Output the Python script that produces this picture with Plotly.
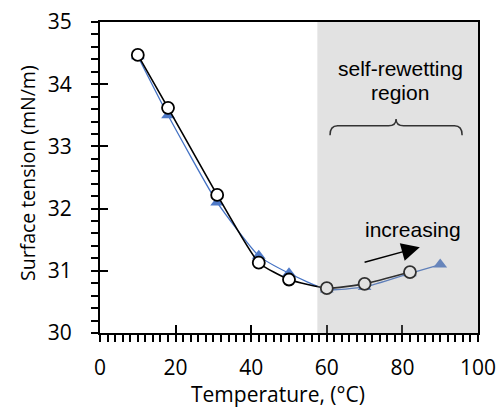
import plotly.graph_objects as go

# Data
temp_circle = [10, 18, 31, 42, 50, 60, 70, 82]
st_circle = [34.47, 33.62, 32.22, 31.13, 30.86, 30.72, 30.79, 30.98]
temp_tri = [10, 18, 31, 42, 50, 60, 70, 82, 90]
st_tri = [34.45, 33.50, 32.10, 31.24, 30.96, 30.70, 30.74, 30.96, 31.10]

region_start = 57.5
region_end = 100

fig = go.Figure()

fig.add_trace(go.Scatter(
    x=temp_tri, y=st_tri, mode="lines+markers",
    line=dict(color="#4472c4", width=1.3, shape="spline", smoothing=0.5),
    marker=dict(symbol="triangle-up", size=12, color="#4f7ac8"),
    showlegend=False, hoverinfo="skip"))
fig.add_trace(go.Scatter(
    x=temp_circle, y=st_circle, mode="lines+markers",
    line=dict(color="black", width=1.6, shape="spline", smoothing=0.5),
    marker=dict(symbol="circle", size=12, color="white", line=dict(color="black", width=1.8)),
    showlegend=False, hoverinfo="skip"))
# invisible trace to activate overlay axes (cross ticks)
fig.add_trace(go.Scatter(
    x=temp_circle, y=st_circle, xaxis="x2", yaxis="y2", mode="markers",
    marker=dict(opacity=0), showlegend=False, hoverinfo="skip"))

tickfont = dict(family="Open Sans", size=21, color="black")

fig.update_layout(
    width=503, height=410,
    margin=dict(l=100, r=25, t=22, b=77, autoexpand=False),
    paper_bgcolor="white", plot_bgcolor="white",
    xaxis=dict(range=[0, 100], dtick=20, tick0=0, showgrid=False, zeroline=False,
               showline=True, linecolor="black", linewidth=2, mirror=True,
               ticks="outside", ticklen=7, tickwidth=2, tickcolor="black",
               tickfont=tickfont, ticklabelstandoff=8, automargin=False,
               minor=dict(dtick=2, ticks="outside", ticklen=7, tickwidth=1.5, tickcolor="black")),
    yaxis=dict(range=[30, 35], dtick=1, tick0=30, showgrid=False, zeroline=False,
               showline=True, linecolor="black", linewidth=2, mirror=True,
               ticks="outside", ticklen=7, tickwidth=2, tickcolor="black",
               tickfont=tickfont, ticklabelstandoff=15, automargin=False,
               minor=dict(dtick=0.2, ticks="outside", ticklen=7, tickwidth=1.5, tickcolor="black")),
    xaxis2=dict(range=[0, 100], dtick=20, tick0=0, overlaying="x", anchor="y2",
                showgrid=False, zeroline=False, showline=False, showticklabels=False,
                ticks="inside", ticklen=8, tickwidth=2, tickcolor="black", automargin=False),
    yaxis2=dict(range=[30, 35], dtick=1, tick0=30, overlaying="y", anchor="x2",
                showgrid=False, zeroline=False, showline=False, showticklabels=False,
                ticks="inside", ticklen=8, tickwidth=2, tickcolor="black", automargin=False),
)

# shaded self-rewetting region (semi-transparent overlay)
fig.add_shape(type="rect", xref="x", yref="paper", x0=region_start, x1=region_end, y0=0, y1=1,
              fillcolor="#a0a0a0", opacity=0.3, line=dict(width=0), layer="above")

# curly brace
bx0, bx1, by, bh = 60.85, 95.8, 33.33, 0.11
bm = (bx0 + bx1) / 2
bq = 2.0
brace = (f"M {bx0},{by - 0.15} Q {bx0},{by} {bx0 + bq},{by} L {bm - bq},{by} "
         f"Q {bm},{by} {bm},{by + bh} Q {bm},{by} {bm + bq},{by} L {bx1 - bq},{by} "
         f"Q {bx1},{by} {bx1},{by - 0.15}")
fig.add_shape(type="path", path=brace, xref="x", yref="y",
              line=dict(color="#333333", width=1.5), layer="above")

annfont = dict(family="Liberation Sans", size=21, color="black")
fig.add_annotation(x=79.4, y=34.26, xref="x", yref="y", text="self-rewetting",
                   showarrow=False, font=annfont)
fig.add_annotation(x=79.4, y=33.87, xref="x", yref="y", text="region",
                   showarrow=False, font=annfont)
fig.add_annotation(x=82.8, y=31.66, xref="x", yref="y", text="increasing",
                   showarrow=False, font=annfont)
fig.add_annotation(x=84.6, y=31.38, ax=69.6, ay=31.13, xref="x", yref="y",
                   axref="x", ayref="y", text="", showarrow=True,
                   arrowhead=2, arrowsize=2.6, arrowwidth=1.4, arrowcolor="black")

fig.add_annotation(x=0.471, y=-0.2445, xref="paper", yref="paper", text="Temperature, (°C)",
                   showarrow=False, font=dict(family="Open Sans", size=21, color="black"),
                   xanchor="center", yanchor="bottom", borderpad=0)
fig.add_annotation(x=-0.19, y=0.515, xref="paper", yref="paper", text="Surface tension (mN/m)",
                   showarrow=False, font=dict(family="Open Sans", size=19.5, color="black"),
                   textangle=-90, xanchor="center", yanchor="middle")

fig.write_html("out.html")
